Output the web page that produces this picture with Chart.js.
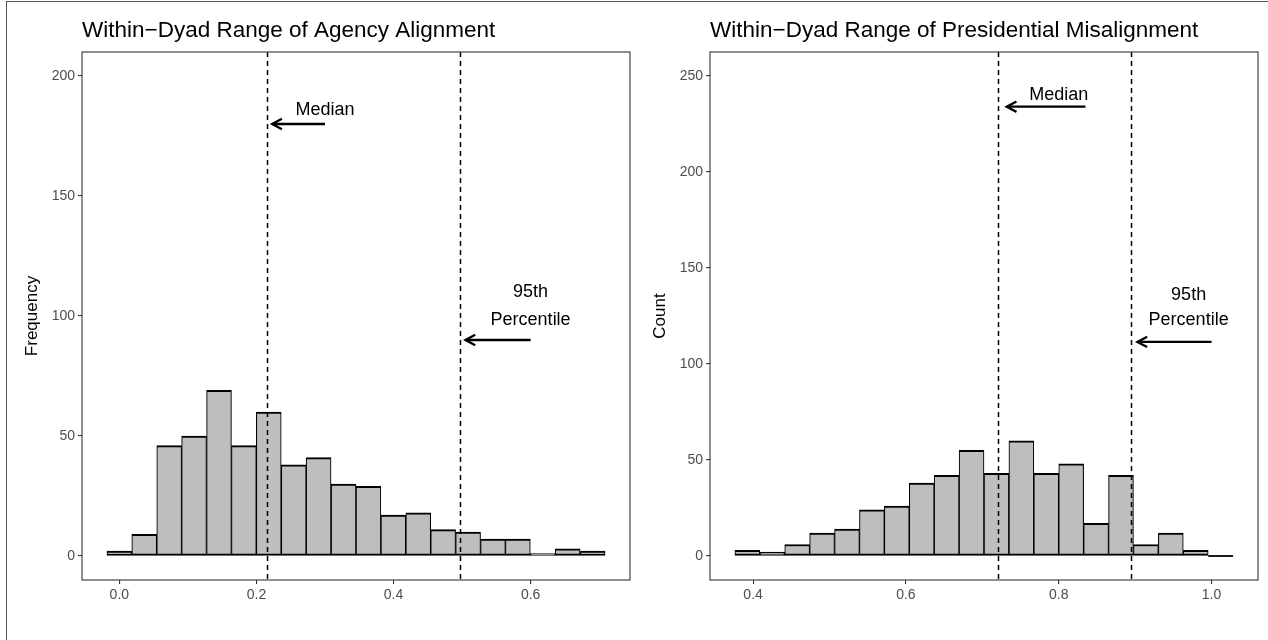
<!DOCTYPE html>
<html>
<head>
<meta charset="utf-8">
<script src="https://cdn.jsdelivr.net/npm/chart.js@4.4.0/dist/chart.umd.min.js"></script>
<style>
  html, body { margin: 0; padding: 0; background: #fff; }
  body { width: 1268px; height: 640px; position: relative; overflow: hidden; }
  .frame { position: absolute; left: 6px; top: 1px; width: 1300px; height: 700px;
           border-left: 1px solid #555; border-top: 1px solid #555; }
  .box { position: absolute; top: 0; height: 640px; }
  #box1 { left: 0; width: 634px; }
  #box2 { left: 628px; width: 640px; }
</style>
</head>
<body>
<div class="frame"></div>
<div class="box" id="box1"><canvas id="agency"></canvas></div>
<div class="box" id="box2"><canvas id="president"></canvas></div>
<script>
// =======================
// DATA
// =======================
// left panel: within-dyad range of agency alignment (bin centres + counts)
const agencyBins = [0.0000, 0.0363, 0.0727, 0.1090, 0.1454, 0.1817, 0.2180, 0.2544, 0.2907, 0.3271,
                    0.3634, 0.3997, 0.4361, 0.4724, 0.5088, 0.5451, 0.5814, 0.6178, 0.6541, 0.6905];
const agencyCounts = [2, 9, 46, 50, 69, 46, 60, 38, 41, 30, 29, 17, 18, 11, 10, 7, 7, 1, 3, 2];
const agencyTicksX = [0.0, 0.2, 0.4, 0.6];
const agencyTicksY = [0, 50, 100, 150, 200];
const agencyMedian = 0.216;
const agencyP95 = 0.4965;

// right panel: within-dyad range of presidential misalignment
const presBins = [0.3925, 0.4251, 0.4577, 0.4903, 0.5229, 0.5555, 0.5881, 0.6207, 0.6533, 0.6859,
                  0.7185, 0.7511, 0.7837, 0.8163, 0.8489, 0.8815, 0.9141, 0.9467, 0.9793, 1.0119];
const presCounts = [3, 2, 6, 12, 14, 24, 26, 38, 42, 55, 43, 60, 43, 48, 17, 42, 6, 12, 3, 0];
const presTicksX = [0.4, 0.6, 0.8, 1.0];
const presTicksY = [0, 50, 100, 150, 200, 250];
const presMedian = 0.721;
const presP95 = 0.8946;

const FONT = "'Liberation Sans', Arial, Helvetica, sans-serif";

// =======================
// PANEL PLUGIN (ref lines, arrows, labels, border, title)
// =======================
const panelPlugin = {
  id: 'panel',
  afterDatasetsDraw(chart, args, opts) {
    const { ctx, chartArea: a } = chart;
    const x = chart.scales.x, y = chart.scales.y;
    ctx.save();

    // empty bins are drawn flat on the baseline, like ggplot does
    const ds = chart.data.datasets[0].data;
    const half = (ds[1].x - ds[0].x) / 2;
    ctx.strokeStyle = '#000';
    ctx.lineWidth = 1.8;
    ds.forEach(p => {
      if (p.y === 0) {
        ctx.beginPath();
        ctx.moveTo(x.getPixelForValue(p.x - half), y.getPixelForValue(0));
        ctx.lineTo(x.getPixelForValue(p.x + half), y.getPixelForValue(0));
        ctx.stroke();
      }
    });

    // dashed reference lines
    ctx.setLineDash([5, 4]);
    ctx.lineWidth = 1.5;
    opts.lines.forEach(v => {
      const px = Math.round(x.getPixelForValue(v)) + 0.5;
      ctx.beginPath();
      ctx.moveTo(px, a.top);
      ctx.lineTo(px, a.bottom);
      ctx.stroke();
    });
    ctx.setLineDash([]);

    // arrows
    ctx.lineWidth = 2.3;
    ctx.lineJoin = 'miter';
    opts.arrows.forEach(ar => {
      const x0 = x.getPixelForValue(ar.from), x1 = x.getPixelForValue(ar.to);
      const py = y.getPixelForValue(ar.y);
      ctx.beginPath();
      ctx.moveTo(x0, py);
      ctx.lineTo(x1, py);
      ctx.stroke();
      const dir = Math.sign(x0 - x1), len = 11, ang = 28 * Math.PI / 180;
      ctx.beginPath();
      ctx.moveTo(x1 + dir * len * Math.cos(ang), py - len * Math.sin(ang));
      ctx.lineTo(x1, py);
      ctx.lineTo(x1 + dir * len * Math.cos(ang), py + len * Math.sin(ang));
      ctx.stroke();
    });

    // text labels
    ctx.fillStyle = '#000';
    ctx.font = '18px ' + FONT;
    ctx.textAlign = 'center';
    ctx.textBaseline = 'middle';
    opts.labels.forEach(lb => {
      ctx.fillText(lb.text, x.getPixelForValue(lb.x), y.getPixelForValue(lb.y));
    });

    // panel border
    ctx.strokeStyle = '#333';
    ctx.lineWidth = 1.1;
    ctx.strokeRect(a.left, a.top, a.width, a.height);

    // title, aligned with panel
    ctx.fillStyle = '#000';
    ctx.font = '22.5px ' + FONT;
    ctx.textAlign = 'left';
    ctx.textBaseline = 'middle';
    ctx.fillText(opts.title, a.left, 31);
    ctx.restore();
  }
};

function makeHist(id, bins, counts, cfg) {
  return new Chart(document.getElementById(id), {
    type: 'bar',
    data: {
      datasets: [{
        data: bins.map((b, i) => ({ x: b, y: counts[i] })),
        backgroundColor: '#bebebe',
        borderColor: '#000',
        borderWidth: { top: 2, bottom: 2, left: 1.1, right: 1.1 },
        borderSkipped: false,
        barPercentage: 1,
        categoryPercentage: 1
      }]
    },
    options: {
      animation: false,
      responsive: true,
      maintainAspectRatio: false,
      events: [],
      layout: { padding: { left: 0, top: 52, right: cfg.padRight, bottom: 0 } },
      plugins: {
        legend: { display: false },
        tooltip: { enabled: false },
        panel: cfg.panel
      },
      scales: {
        x: {
          type: 'linear',
          offset: false,
          min: cfg.xMin, max: cfg.xMax,
          afterBuildTicks: s => { s.ticks = cfg.ticksX.map(v => ({ value: v })); },
          afterFit: s => { s.height = 60; },
          grid: { offset: false, drawOnChartArea: false, drawTicks: true, tickLength: 4, color: '#333', lineWidth: 1.1 },
          border: { display: false },
          ticks: {
            color: '#4d4d4d', padding: 3,
            font: { family: FONT, size: 14 },
            callback: v => Number(v).toFixed(1)
          }
        },
        y: {
          min: cfg.yMin, max: cfg.yMax,
          afterBuildTicks: s => { s.ticks = cfg.ticksY.map(v => ({ value: v })); },
          afterFit: s => { s.width = 82; },
          grid: { drawOnChartArea: false, drawTicks: true, tickLength: 4, color: '#333', lineWidth: 1.1 },
          border: { display: false },
          ticks: {
            color: '#4d4d4d', padding: 3,
            font: { family: FONT, size: 14 },
            callback: v => String(v)
          },
          title: {
            display: true, text: cfg.yTitle, color: '#000',
            font: { family: FONT, size: 17 },
            padding: { top: 22, bottom: 0 }
          }
        }
      }
    },
    plugins: [panelPlugin]
  });
}

// =======================
// CHARTS
// =======================
makeHist('agency', agencyBins, agencyCounts, {
  xMin: -0.0545, xMax: 0.745, yMin: -10, yMax: 210,
  ticksX: agencyTicksX, ticksY: agencyTicksY,
  yTitle: 'Frequency', padRight: 4,
  panel: {
    title: 'Within\u2212Dyad Range of Agency Alignment',
    lines: [agencyMedian, agencyP95],
    arrows: [{ from: 0.30, to: 0.223, y: 180 }, { from: 0.60, to: 0.505, y: 90 }],
    labels: [
      { text: 'Median', x: 0.30, y: 186 },
      { text: '95th', x: 0.60, y: 110 },
      { text: 'Percentile', x: 0.60, y: 98.5 }
    ]
  }
});

makeHist('president', presBins, presCounts, {
  xMin: 0.3436, xMax: 1.0608, yMin: -12.5, yMax: 262.5,
  ticksX: presTicksX, ticksY: presTicksY,
  yTitle: 'Count', padRight: 10,
  panel: {
    title: 'Within\u2212Dyad Range of Presidential Misalignment',
    lines: [presMedian, presP95],
    arrows: [{ from: 0.835, to: 0.732, y: 234 }, { from: 1.0, to: 0.903, y: 111.5 }],
    labels: [
      { text: 'Median', x: 0.80, y: 240 },
      { text: '95th', x: 0.97, y: 136 },
      { text: 'Percentile', x: 0.97, y: 123 }
    ]
  }
});
</script>
</body>
</html>
